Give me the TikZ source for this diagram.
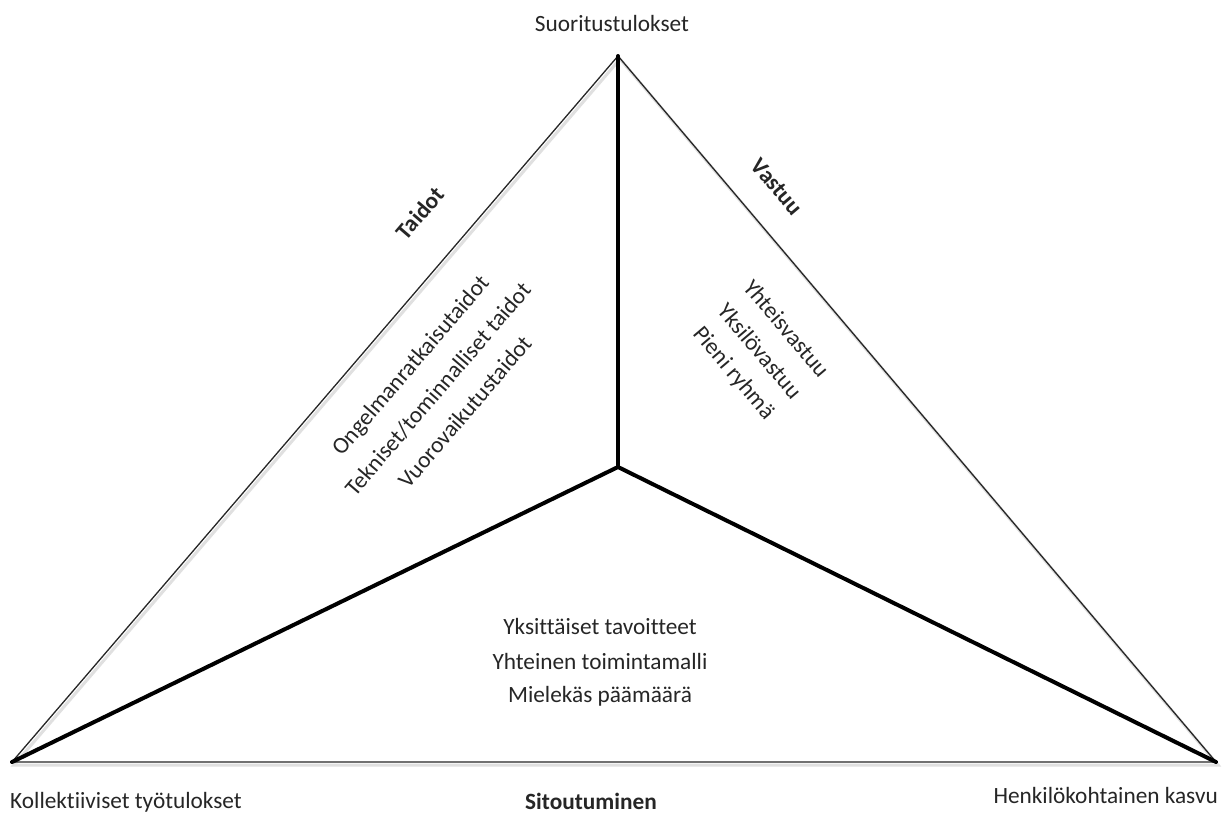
\documentclass[tikz,border=0pt]{standalone}
\usepackage{fontspec}
\setmainfont[Ligatures={NoCommon}]{Carlito}
\begin{document}
\begin{tikzpicture}[x=1pt,y=-1pt,
  lbl/.style={inner sep=0pt,font=\fontsize{23.3}{35}\selectfont,text=black!85},
  blbl/.style={lbl,font=\fontsize{23.3}{35}\selectfont\bfseries},
  lrot/.style={lbl,rotate=49.4},
  rrot/.style={lbl,rotate=-49.7},
  thin edge/.style={line width=1.3pt,black!85},
  shadow edge/.style={line width=3pt,black!12},
  thick edge/.style={line width=4pt,black,line cap=round}]
\useasboundingbox[fill=white] (0,0) rectangle (1227,814);
% vertices
\coordinate (T) at (618,56);
\coordinate (L) at (12,762);
\coordinate (R) at (1216,762);
\coordinate (C) at (618,467);
% shadows of outer triangle
\draw[shadow edge] ([shift={(2,3)}]L) -- ([shift={(2,3)}]T) -- ([shift={(2,3)}]R) -- cycle;
% outer triangle
\draw[thin edge] (L) -- (T) -- (R) -- cycle;
% inner thick lines
\draw[thick edge] (T) -- (C);
\draw[thick edge] (L) -- (C);
\draw[thick edge] (R) -- (C);
% vertex labels
\node[lbl] (top) at (612,23) {Suoritustulokset};
\node[lbl,anchor=west] (bl) at (10,802) {Kollektiiviset työtulokset};
\node[lbl,anchor=east] (br) at (1218,795) {Henkilökohtainen kasvu};
% side labels
\node[blbl,rotate=49.4] (taidot) at (420,213) {Taidot};
\node[blbl,rotate=-49.7] (vastuu) at (777,187) {Vastuu};
\node[blbl] (sit) at (591,801) {Sitoutuminen};
% left region texts
\node[lrot] (l1) at (411.4,366.2) {Ongelmanratkaisutaidot};
\node[lrot] (l2) at (438,389) {Tekniset/tominnalliset taidot};
\node[lrot] (l3) at (464.6,411.8) {Vuorovaikutustaidot};
% right region texts
\node[rrot] (r1) at (786.7,328.4) {Yhteisvastuu};
\node[rrot] (r2) at (760,351) {Yksilövastuu};
\node[rrot] (r3) at (733.3,373.6) {Pieni ryhmä};
% bottom region texts
\node[lbl] (b1) at (600,626) {Yksittäiset tavoitteet};
\node[lbl] (b2) at (600,661) {Yhteinen toimintamalli};
\node[lbl] (b3) at (600,696) {Mielekäs päämäärä};
\end{tikzpicture}
\end{document}
